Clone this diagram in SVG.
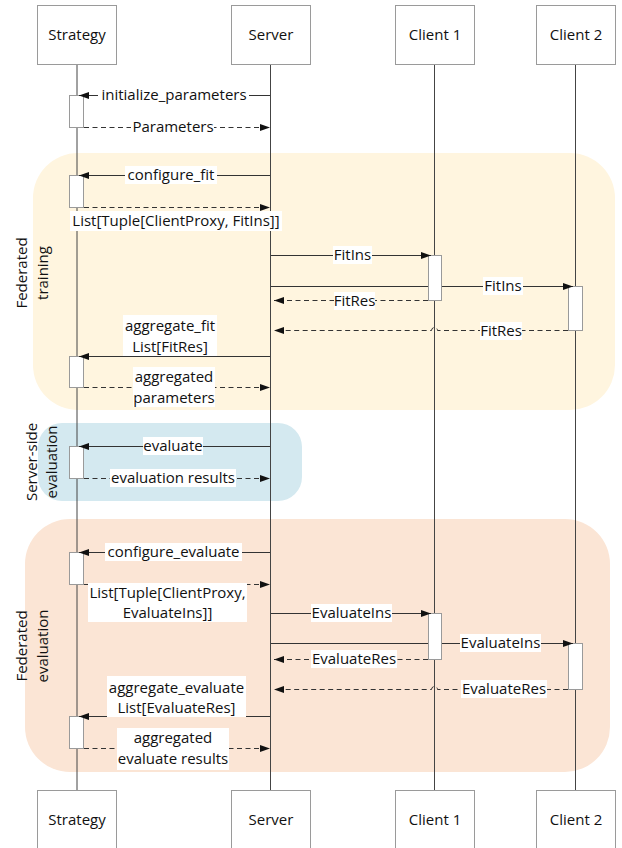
<svg xmlns="http://www.w3.org/2000/svg" width="622" height="848" viewBox="0 0 622 848">
  <defs>
    <marker id="arrow" markerUnits="userSpaceOnUse" markerWidth="10" markerHeight="8" refX="10" refY="4" orient="auto">
      <path d="M0,0.5 L10,4 L0,7.5 z" fill="#111"/>
    </marker>
    <style>
      text { font-family: "Open Sans", "Liberation Sans", sans-serif; font-size: 15px; fill: #111; text-anchor: middle; }
      .box { fill: #fff; stroke: #9a9a9a; stroke-width: 1; }
      .life { stroke: #444; stroke-width: 1; fill: none; }
      .act { fill: #fff; stroke: #9a9a9a; stroke-width: 1; }
      .msg { stroke: #333; stroke-width: 1; fill: none; marker-end: url(#arrow); }
      .ret { stroke: #333; stroke-width: 1; fill: none; stroke-dasharray: 5 3.5; marker-end: url(#arrow); }
      .bg { fill: #fff; }
    </style>
  </defs>

  <rect width="622" height="848" fill="#fff"/>

  <!-- phase regions -->
  <g id="regions">
    <rect id="federated-training" x="33" y="153" width="582" height="257" rx="45" fill="#FFF5DF"/>
    <rect id="server-side-evaluation" x="38" y="423" width="264" height="78" rx="24" fill="#D4E9F0"/>
    <rect id="federated-evaluation" x="25" y="519" width="585" height="253" rx="45" fill="#FBE5D5"/>
  </g>

  <!-- region captions -->
  <g id="captions">
    <g transform="translate(0,273) rotate(-90)">
      <text x="0" y="27">Federated</text>
      <text x="0" y="48">training</text>
    </g>
    <g transform="translate(0,462) rotate(-90)">
      <text x="0" y="37">Server-side</text>
      <text x="0" y="57">evaluation</text>
    </g>
    <g transform="translate(0,646) rotate(-90)">
      <text x="0" y="27">Federated</text>
      <text x="0" y="48">evaluation</text>
    </g>
  </g>

  <!-- participants: head box, lifeline, foot box -->
  <g id="strategy">
    <line class="life" x1="77" y1="64" x2="77" y2="790"/>
    <rect class="box" x="37.5" y="5.5" width="79" height="59"/>
    <text x="77" y="40">Strategy</text>
    <rect class="box" x="37.5" y="790.5" width="79" height="62"/>
    <text x="77" y="825">Strategy</text>
  </g>
  <g id="server">
    <line class="life" x1="270.5" y1="64" x2="270.5" y2="790"/>
    <rect class="box" x="231.5" y="5.5" width="79" height="59"/>
    <text x="271" y="40">Server</text>
    <rect class="box" x="231.5" y="790.5" width="79" height="62"/>
    <text x="271" y="825">Server</text>
  </g>
  <g id="client1">
    <line class="life" x1="434.5" y1="64" x2="434.5" y2="790"/>
    <rect class="box" x="395.5" y="5.5" width="79" height="59"/>
    <text x="435" y="40">Client 1</text>
    <rect class="box" x="395.5" y="790.5" width="79" height="62"/>
    <text x="435" y="825">Client 1</text>
  </g>
  <g id="client2">
    <line class="life" x1="575.5" y1="64" x2="575.5" y2="790"/>
    <rect class="box" x="536.5" y="5.5" width="79" height="59"/>
    <text x="576" y="40">Client 2</text>
    <rect class="box" x="536.5" y="790.5" width="79" height="62"/>
    <text x="576" y="825">Client 2</text>
  </g>

  <!-- activation bars -->
  <g id="activations">
    <rect class="act" x="69.5" y="95.5" width="14" height="32"/>
    <rect class="act" x="69.5" y="175.5" width="14" height="32"/>
    <rect class="act" x="69.5" y="356.5" width="14" height="31"/>
    <rect class="act" x="69.5" y="446.5" width="14" height="32"/>
    <rect class="act" x="69.5" y="552.5" width="14" height="32"/>
    <rect class="act" x="69.5" y="716.5" width="14" height="32"/>
    <rect class="act" x="428.5" y="255.5" width="13" height="45"/>
    <rect class="act" x="568.5" y="286.5" width="14" height="44"/>
    <rect class="act" x="428.5" y="613.5" width="13" height="46"/>
    <rect class="act" x="568.5" y="643.5" width="14" height="46"/>
  </g>

  <!-- messages -->
  <g id="connectors">
    <line class="msg" x1="270" y1="95.5" x2="79" y2="95.5"/>
    <line class="ret" x1="84" y1="127.5" x2="270" y2="127.5"/>
    <line class="msg" x1="270" y1="175.5" x2="79" y2="175.5"/>
    <line class="ret" x1="84" y1="207.5" x2="270" y2="207.5"/>

    <line class="msg" x1="271" y1="255.5" x2="431" y2="255.5"/>
    <line stroke="#333" x1="271" y1="286.5" x2="428" y2="286.5"/>
    <line class="msg" x1="442" y1="286.5" x2="573" y2="286.5"/>
    <line class="ret" x1="428" y1="300.5" x2="274" y2="300.5"/>
    <path class="ret" d="M568,330.5 H437.5 A3,3 0 0 0 431.5,330.5 H274"/>
    <line class="msg" x1="270" y1="356.5" x2="79" y2="356.5"/>
    <line class="ret" x1="84" y1="387.5" x2="270" y2="387.5"/>

    <line class="msg" x1="270" y1="446.5" x2="79" y2="446.5"/>
    <line class="ret" x1="84" y1="478.5" x2="270" y2="478.5"/>

    <line class="msg" x1="270" y1="552.5" x2="79" y2="552.5"/>
    <line class="ret" x1="84" y1="584.5" x2="270" y2="584.5"/>
    <line class="msg" x1="271" y1="613.5" x2="431" y2="613.5"/>
    <line stroke="#333" x1="271" y1="643.5" x2="428" y2="643.5"/>
    <line class="msg" x1="442" y1="643.5" x2="573" y2="643.5"/>
    <line class="ret" x1="428" y1="659.5" x2="274" y2="659.5"/>
    <path class="ret" d="M568,689.5 H437.5 A3,3 0 0 0 431.5,689.5 H274"/>
    <line class="msg" x1="270" y1="716.5" x2="79" y2="716.5"/>
    <line class="ret" x1="84" y1="748.5" x2="270" y2="748.5"/>
  </g>

  <!-- message labels -->
  <g id="labels">
    <rect class="bg" x="98" y="86" width="151" height="18"/>
    <text x="174" y="100">initialize_parameters</text>
    <rect class="bg" x="131" y="118" width="83" height="18"/>
    <text x="173" y="132">Parameters</text>
    <rect class="bg" x="125" y="166" width="92" height="18"/>
    <text x="171" y="180">configure_fit</text>
    <rect class="bg" x="70" y="211" width="212" height="20"/>
    <text x="176" y="226">List[Tuple[ClientProxy, FitIns]]</text>

    <rect class="bg" x="333" y="246" width="39" height="18"/>
    <text x="352.5" y="260">FitIns</text>
    <rect class="bg" x="483" y="277" width="40" height="18"/>
    <text x="503" y="291">FitIns</text>
    <rect class="bg" x="334" y="292" width="41" height="18"/>
    <text x="354.5" y="306">FitRes</text>
    <rect class="bg" x="480" y="322" width="42" height="18"/>
    <text x="501" y="336">FitRes</text>

    <rect class="bg" x="123" y="315" width="94" height="41"/>
    <text x="170" y="331">aggregate_fit</text>
    <text x="170" y="352">List[FitRes]</text>
    <rect class="bg" x="133" y="367" width="82" height="40"/>
    <text x="174" y="382">aggregated</text>
    <text x="174" y="403">parameters</text>

    <rect class="bg" x="143" y="437" width="60" height="18"/>
    <text x="173" y="451">evaluate</text>
    <rect class="bg" x="110" y="469" width="126" height="18"/>
    <text x="173" y="483">evaluation results</text>

    <rect class="bg" x="105" y="543" width="137" height="18"/>
    <text x="173.5" y="557">configure_evaluate</text>
    <rect class="bg" x="88" y="583" width="159" height="39"/>
    <text x="167.5" y="598">List[Tuple[ClientProxy,</text>
    <text x="167.5" y="618">EvaluateIns]]</text>

    <rect class="bg" x="311" y="604" width="81" height="18"/>
    <text x="351.5" y="618">EvaluateIns</text>
    <rect class="bg" x="460" y="634" width="81" height="18"/>
    <text x="500.5" y="648">EvaluateIns</text>
    <rect class="bg" x="311" y="650" width="86" height="18"/>
    <text x="354" y="664">EvaluateRes</text>
    <rect class="bg" x="461" y="680" width="86" height="18"/>
    <text x="504" y="694">EvaluateRes</text>

    <rect class="bg" x="107" y="676" width="139" height="41"/>
    <text x="176.5" y="693">aggregate_evaluate</text>
    <text x="176.5" y="713">List[EvaluateRes]</text>
    <rect class="bg" x="117" y="728" width="112" height="42"/>
    <text x="173" y="743">aggregated</text>
    <text x="173" y="764">evaluate results</text>
  </g>
</svg>
